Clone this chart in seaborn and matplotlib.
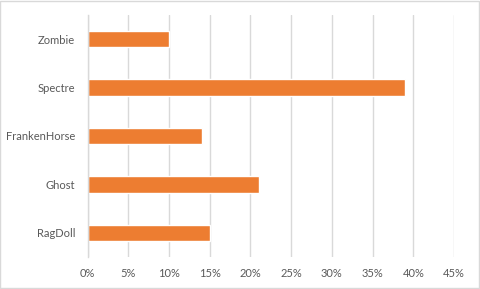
import matplotlib
matplotlib.use("Agg")
import matplotlib.pyplot as plt
import seaborn as sns
import pandas as pd
from matplotlib.ticker import PercentFormatter, MultipleLocator
from matplotlib.patches import Rectangle

categories = ["Zombie", "Spectre", "FrankenHorse", "Ghost", "RagDoll"]
values = [0.10, 0.39, 0.14, 0.21, 0.15]

df = pd.DataFrame({"cat": categories, "val": values})

sns.set_theme(style="white")
plt.rcParams["font.family"] = ["Lato", "DejaVu Sans"]

fig = plt.figure(figsize=(4.8, 2.89), dpi=100)
ax = fig.add_axes([87.5/480, 32/289, (454-87.5)/480, 242/289])

sns.barplot(data=df, x="val", y="cat", orient="h", color="#ED7D31",
            saturation=1, width=0.34, ax=ax)

ax.set_xlim(0, 0.45)
ax.set_ylim(4.5, -0.5)
ax.xaxis.set_major_locator(MultipleLocator(0.05))
ax.xaxis.set_major_formatter(PercentFormatter(1.0, decimals=0))
ax.grid(axis="x", color="#D9D9D9", linewidth=1)
ax.set_axisbelow(True)
for s in ["top", "right", "bottom"]:
    ax.spines[s].set_visible(False)
ax.spines["left"].set_color("#D9D9D9")
ax.spines["left"].set_linewidth(1)
ax.set_xlabel("")
ax.set_ylabel("")
ax.tick_params(axis="both", length=0, labelsize=8, labelcolor="#595959")
ax.tick_params(axis="y", pad=9)
ax.tick_params(axis="x", pad=8)

fig.patches.append(Rectangle((0.001, 0.002), 0.997, 0.995, transform=fig.transFigure,
                             fill=False, edgecolor="#D9D9D9", linewidth=1))

fig.savefig("out.png", dpi=100, facecolor="white")
